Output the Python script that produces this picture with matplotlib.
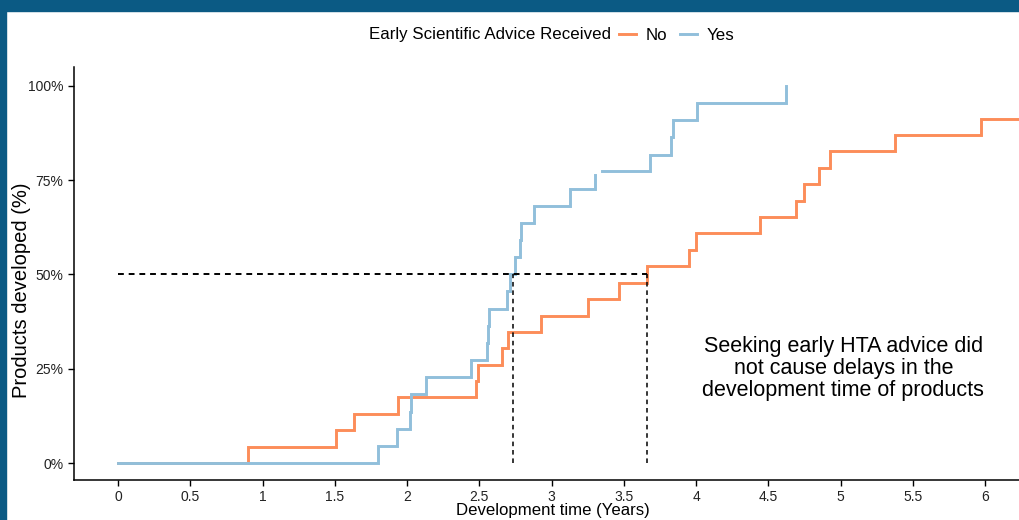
import matplotlib
matplotlib.use('Agg')
import matplotlib.pyplot as plt
import numpy as np

plt.rcParams['font.family'] = ['Liberation Sans', 'DejaVu Sans']

# Early advice not received (No): step times (years) and cumulative % developed
no_t = [0, 0.90, 1.51, 1.63, 1.94, 2.48, 2.49, 2.66, 2.70, 2.93, 3.25, 3.47,
        3.66, 3.95, 4.00, 4.44, 4.69, 4.75, 4.85, 4.93, 5.38, 5.97, 6.40]
no_p = [0, 4.3, 8.7, 13.0, 17.4, 21.7, 26.1, 30.4, 34.8, 39.1, 43.5, 47.8,
        52.2, 56.5, 60.9, 65.2, 69.6, 73.9, 78.3, 82.6, 87.0, 91.3, 91.3]

# Early advice received (Yes), drawn in two pieces (gap around 3.3 years)
yes_t1 = [0, 1.80, 1.93, 2.02, 2.03, 2.13, 2.44, 2.55, 2.56, 2.57, 2.69, 2.71,
          2.75, 2.78, 2.79, 2.88, 3.13, 3.30]
yes_p1 = [0, 4.5, 9.1, 13.6, 18.2, 22.7, 27.3, 31.8, 36.4, 40.9, 45.5, 50.0,
          54.5, 59.1, 63.6, 68.2, 72.7, 76.4]
yes_t2 = [3.35, 3.68, 3.83, 3.84, 4.01, 4.62]
yes_p2 = [77.3, 81.8, 86.4, 90.9, 95.5, 100.0]

# median development times
median_yes = 2.73
median_no = 3.66

col_no = '#FC8D59'
col_yes = '#91BFDB'

fig = plt.figure(figsize=(10.2, 5.2), dpi=100)
fig.patch.set_facecolor('white')

# dark blue frame along top and left edges
fig.patches.append(plt.Rectangle((0, 1 - 11 / 520), 1, 11 / 520, transform=fig.transFigure,
                                 color='#0B5A84', zorder=0))
fig.patches.append(plt.Rectangle((0, 0), 6 / 1020, 1, transform=fig.transFigure,
                                 color='#0B5A84', zorder=0))

ax = fig.add_axes([74 / 1020, 40 / 520, 1 - 74 / 1020, 413 / 520])

ax.step(no_t, no_p, where='post', color=col_no, lw=2.1, solid_joinstyle='miter')
ax.step(yes_t1, yes_p1, where='post', color=col_yes, lw=2.1, solid_joinstyle='miter')
ax.step(yes_t2, yes_p2, where='post', color=col_yes, lw=2.1, solid_joinstyle='miter')

# median lines
ax.plot([0, median_no], [50, 50], color='black', ls=(0, (3, 2.5)), lw=1.4)
ax.plot([median_yes, median_yes], [0, 50], color='black', ls=(0, (3, 2.5)), lw=1.1)
ax.plot([median_no, median_no], [0, 50], color='black', ls=(0, (3, 2.5)), lw=1.1)

ax.text(5.02, 25.0, 'Seeking early HTA advice did\nnot cause delays in the\ndevelopment time of products',
        ha='center', va='center', fontsize=15.5, linespacing=1.06)

ax.set_xlim(-0.305, 6.242)
ax.set_ylim(-4.5, 105)
ax.set_xticks(np.arange(0, 6.01, 0.5))
ax.set_xticklabels(['0', '0.5', '1', '1.5', '2', '2.5', '3', '3.5', '4', '4.5', '5', '5.5', '6'])
ax.set_yticks([0, 25, 50, 75, 100])
ax.set_yticklabels(['0%', '25%', '50%', '75%', '100%'])
ax.tick_params(labelsize=10, length=4, width=1.0, color='black', labelcolor='#222222')
for s in ['top', 'right']:
    ax.spines[s].set_visible(False)
for s in ['left', 'bottom']:
    ax.spines[s].set_linewidth(1.1)

ax.set_xlabel('Development time (Years)', fontsize=12.1)
ax.xaxis.set_label_coords(0.506, -0.056)
ax.set_ylabel('Products developed (%)', fontsize=14.5)
ax.yaxis.set_label_coords(-0.045, 0.46)

# legend with title on the left, like ggplot's top legend
fig.text(369 / 1020, 1 - 35 / 520, 'Early Scientific Advice Received', fontsize=12.2,
         ha='left', va='center')
h_no, = ax.plot([], [], color=col_no, lw=2.1)
h_yes, = ax.plot([], [], color=col_yes, lw=2.1)
fig.legend([h_no, h_yes], ['No', 'Yes'], loc='center left', ncol=2,
           bbox_to_anchor=(619 / 1020, 1 - 35 / 520), frameon=False, fontsize=12.2,
           handlelength=1.0, handletextpad=0.55, columnspacing=0.8, borderpad=0,
           borderaxespad=0)

fig.savefig('out.png', dpi=100)
